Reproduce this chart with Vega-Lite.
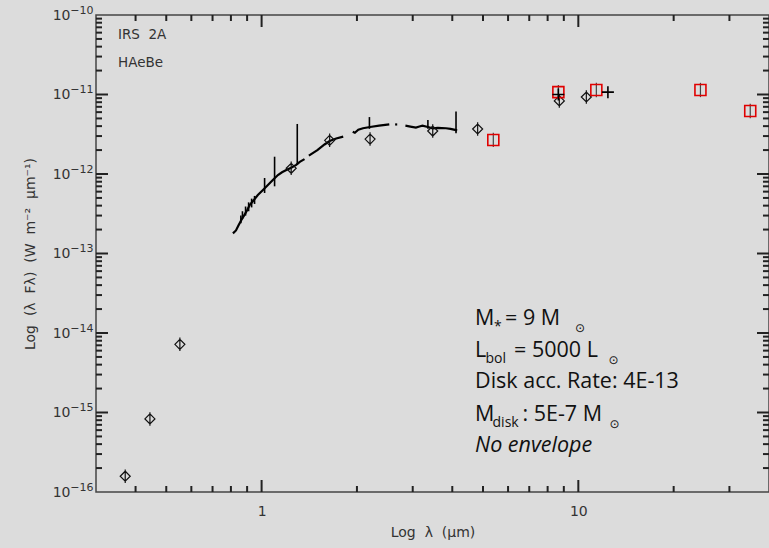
{
  "$schema": "https://vega.github.io/schema/vega-lite/v6.json",
  "width": 673,
  "height": 477,
  "autosize": "none",
  "padding": {"left": 96, "top": 15, "right": 0, "bottom": 56},
  "background": "#dcdcdc",
  "config": {"view": {"stroke": "#444", "strokeWidth": 1.5}},
  "datasets": {
    "xt": [
      {"lam": 1, "a": 1e-16, "b": 1.416e-16, "c": 1e-10, "d": 7.06e-11},
      {"lam": 10, "a": 1e-16, "b": 1.416e-16, "c": 1e-10, "d": 7.06e-11},
      {"lam": 0.4, "a": 1e-16, "b": 1.19e-16, "c": 1e-10, "d": 8.4e-11},
      {"lam": 0.5, "a": 1e-16, "b": 1.19e-16, "c": 1e-10, "d": 8.4e-11},
      {"lam": 0.6, "a": 1e-16, "b": 1.19e-16, "c": 1e-10, "d": 8.4e-11},
      {"lam": 0.7, "a": 1e-16, "b": 1.19e-16, "c": 1e-10, "d": 8.4e-11},
      {"lam": 0.8, "a": 1e-16, "b": 1.19e-16, "c": 1e-10, "d": 8.4e-11},
      {"lam": 0.9, "a": 1e-16, "b": 1.19e-16, "c": 1e-10, "d": 8.4e-11},
      {"lam": 2, "a": 1e-16, "b": 1.19e-16, "c": 1e-10, "d": 8.4e-11},
      {"lam": 3, "a": 1e-16, "b": 1.19e-16, "c": 1e-10, "d": 8.4e-11},
      {"lam": 4, "a": 1e-16, "b": 1.19e-16, "c": 1e-10, "d": 8.4e-11},
      {"lam": 5, "a": 1e-16, "b": 1.19e-16, "c": 1e-10, "d": 8.4e-11},
      {"lam": 6, "a": 1e-16, "b": 1.19e-16, "c": 1e-10, "d": 8.4e-11},
      {"lam": 7, "a": 1e-16, "b": 1.19e-16, "c": 1e-10, "d": 8.4e-11},
      {"lam": 8, "a": 1e-16, "b": 1.19e-16, "c": 1e-10, "d": 8.4e-11},
      {"lam": 9, "a": 1e-16, "b": 1.19e-16, "c": 1e-10, "d": 8.4e-11},
      {"lam": 20, "a": 1e-16, "b": 1.19e-16, "c": 1e-10, "d": 8.4e-11},
      {"lam": 30, "a": 1e-16, "b": 1.19e-16, "c": 1e-10, "d": 8.4e-11}
    ],
    "yt": [
      {"flux": 1e-15, "a": 0.3, "b": 0.3273, "c": 40, "d": 36.66},
      {"flux": 1e-14, "a": 0.3, "b": 0.3273, "c": 40, "d": 36.66},
      {"flux": 1e-13, "a": 0.3, "b": 0.3273, "c": 40, "d": 36.66},
      {"flux": 1e-12, "a": 0.3, "b": 0.3273, "c": 40, "d": 36.66},
      {"flux": 1e-11, "a": 0.3, "b": 0.3273, "c": 40, "d": 36.66},
      {"flux": 2e-16, "a": 0.3, "b": 0.3134, "c": 40, "d": 38.29},
      {"flux": 3e-16, "a": 0.3, "b": 0.3134, "c": 40, "d": 38.29},
      {"flux": 4e-16, "a": 0.3, "b": 0.3134, "c": 40, "d": 38.29},
      {"flux": 5e-16, "a": 0.3, "b": 0.3134, "c": 40, "d": 38.29},
      {"flux": 6e-16, "a": 0.3, "b": 0.3134, "c": 40, "d": 38.29},
      {"flux": 7e-16, "a": 0.3, "b": 0.3134, "c": 40, "d": 38.29},
      {"flux": 8e-16, "a": 0.3, "b": 0.3134, "c": 40, "d": 38.29},
      {"flux": 9e-16, "a": 0.3, "b": 0.3134, "c": 40, "d": 38.29},
      {"flux": 2e-15, "a": 0.3, "b": 0.3134, "c": 40, "d": 38.29},
      {"flux": 3e-15, "a": 0.3, "b": 0.3134, "c": 40, "d": 38.29},
      {"flux": 4e-15, "a": 0.3, "b": 0.3134, "c": 40, "d": 38.29},
      {"flux": 5e-15, "a": 0.3, "b": 0.3134, "c": 40, "d": 38.29},
      {"flux": 6e-15, "a": 0.3, "b": 0.3134, "c": 40, "d": 38.29},
      {"flux": 7e-15, "a": 0.3, "b": 0.3134, "c": 40, "d": 38.29},
      {"flux": 8e-15, "a": 0.3, "b": 0.3134, "c": 40, "d": 38.29},
      {"flux": 9e-15, "a": 0.3, "b": 0.3134, "c": 40, "d": 38.29},
      {"flux": 2e-14, "a": 0.3, "b": 0.3134, "c": 40, "d": 38.29},
      {"flux": 3e-14, "a": 0.3, "b": 0.3134, "c": 40, "d": 38.29},
      {"flux": 4e-14, "a": 0.3, "b": 0.3134, "c": 40, "d": 38.29},
      {"flux": 5e-14, "a": 0.3, "b": 0.3134, "c": 40, "d": 38.29},
      {"flux": 6e-14, "a": 0.3, "b": 0.3134, "c": 40, "d": 38.29},
      {"flux": 7e-14, "a": 0.3, "b": 0.3134, "c": 40, "d": 38.29},
      {"flux": 8e-14, "a": 0.3, "b": 0.3134, "c": 40, "d": 38.29},
      {"flux": 9e-14, "a": 0.3, "b": 0.3134, "c": 40, "d": 38.29},
      {"flux": 2e-13, "a": 0.3, "b": 0.3134, "c": 40, "d": 38.29},
      {"flux": 3e-13, "a": 0.3, "b": 0.3134, "c": 40, "d": 38.29},
      {"flux": 4e-13, "a": 0.3, "b": 0.3134, "c": 40, "d": 38.29},
      {"flux": 5e-13, "a": 0.3, "b": 0.3134, "c": 40, "d": 38.29},
      {"flux": 6e-13, "a": 0.3, "b": 0.3134, "c": 40, "d": 38.29},
      {"flux": 7e-13, "a": 0.3, "b": 0.3134, "c": 40, "d": 38.29},
      {"flux": 8e-13, "a": 0.3, "b": 0.3134, "c": 40, "d": 38.29},
      {"flux": 9e-13, "a": 0.3, "b": 0.3134, "c": 40, "d": 38.29},
      {"flux": 2e-12, "a": 0.3, "b": 0.3134, "c": 40, "d": 38.29},
      {"flux": 3e-12, "a": 0.3, "b": 0.3134, "c": 40, "d": 38.29},
      {"flux": 4e-12, "a": 0.3, "b": 0.3134, "c": 40, "d": 38.29},
      {"flux": 5e-12, "a": 0.3, "b": 0.3134, "c": 40, "d": 38.29},
      {"flux": 6e-12, "a": 0.3, "b": 0.3134, "c": 40, "d": 38.29},
      {"flux": 7e-12, "a": 0.3, "b": 0.3134, "c": 40, "d": 38.29},
      {"flux": 8e-12, "a": 0.3, "b": 0.3134, "c": 40, "d": 38.29},
      {"flux": 9e-12, "a": 0.3, "b": 0.3134, "c": 40, "d": 38.29},
      {"flux": 2e-11, "a": 0.3, "b": 0.3134, "c": 40, "d": 38.29},
      {"flux": 3e-11, "a": 0.3, "b": 0.3134, "c": 40, "d": 38.29},
      {"flux": 4e-11, "a": 0.3, "b": 0.3134, "c": 40, "d": 38.29},
      {"flux": 5e-11, "a": 0.3, "b": 0.3134, "c": 40, "d": 38.29},
      {"flux": 6e-11, "a": 0.3, "b": 0.3134, "c": 40, "d": 38.29},
      {"flux": 7e-11, "a": 0.3, "b": 0.3134, "c": 40, "d": 38.29},
      {"flux": 8e-11, "a": 0.3, "b": 0.3134, "c": 40, "d": 38.29},
      {"flux": 9e-11, "a": 0.3, "b": 0.3134, "c": 40, "d": 38.29}
    ],
    "spec": [
      {"seg": 1, "lam": 0.812, "flux": 1.79e-13},
      {"seg": 1, "lam": 0.83, "flux": 1.95e-13},
      {"seg": 1, "lam": 0.845, "flux": 2.25e-13},
      {"seg": 1, "lam": 0.863, "flux": 2.64e-13},
      {"seg": 1, "lam": 0.88, "flux": 3.0e-13},
      {"seg": 1, "lam": 0.9, "flux": 3.5e-13},
      {"seg": 1, "lam": 0.917, "flux": 4.07e-13},
      {"seg": 1, "lam": 0.945, "flux": 4.7e-13},
      {"seg": 1, "lam": 0.973, "flux": 5.44e-13},
      {"seg": 1, "lam": 1.01, "flux": 6.3e-13},
      {"seg": 1, "lam": 1.047, "flux": 7.27e-13},
      {"seg": 1, "lam": 1.085, "flux": 8.4e-13},
      {"seg": 1, "lam": 1.126, "flux": 9.7e-13},
      {"seg": 1, "lam": 1.16, "flux": 1.05e-12},
      {"seg": 1, "lam": 1.197, "flux": 1.12e-12},
      {"seg": 1, "lam": 1.24, "flux": 1.2e-12},
      {"seg": 1, "lam": 1.286, "flux": 1.3e-12},
      {"seg": 1, "lam": 1.32, "flux": 1.42e-12},
      {"seg": 1, "lam": 1.366, "flux": 1.54e-12},
      {"seg": 2, "lam": 1.41, "flux": 1.7e-12},
      {"seg": 2, "lam": 1.5, "flux": 2.0e-12},
      {"seg": 2, "lam": 1.58, "flux": 2.35e-12},
      {"seg": 2, "lam": 1.64, "flux": 2.6e-12},
      {"seg": 2, "lam": 1.72, "flux": 2.8e-12},
      {"seg": 2, "lam": 1.81, "flux": 2.95e-12},
      {"seg": 3, "lam": 1.94, "flux": 3.4e-12},
      {"seg": 3, "lam": 1.97, "flux": 3.3e-12},
      {"seg": 3, "lam": 2.02, "flux": 3.6e-12},
      {"seg": 3, "lam": 2.09, "flux": 3.76e-12},
      {"seg": 3, "lam": 2.2, "flux": 3.9e-12},
      {"seg": 3, "lam": 2.35, "flux": 4.05e-12},
      {"seg": 3, "lam": 2.53, "flux": 4.22e-12},
      {"seg": 4, "lam": 2.64, "flux": 4.2e-12},
      {"seg": 4, "lam": 2.68, "flux": 4.2e-12},
      {"seg": 5, "lam": 2.845, "flux": 4.05e-12},
      {"seg": 5, "lam": 2.95, "flux": 3.95e-12},
      {"seg": 5, "lam": 3.07, "flux": 3.83e-12},
      {"seg": 5, "lam": 3.15, "flux": 3.95e-12},
      {"seg": 5, "lam": 3.22, "flux": 4.05e-12},
      {"seg": 5, "lam": 3.35, "flux": 3.9e-12},
      {"seg": 5, "lam": 3.47, "flux": 3.76e-12},
      {"seg": 5, "lam": 3.6, "flux": 3.8e-12},
      {"seg": 5, "lam": 3.82, "flux": 3.76e-12},
      {"seg": 5, "lam": 3.95, "flux": 3.7e-12},
      {"seg": 5, "lam": 4.11, "flux": 3.57e-12},
      {"seg": 5, "lam": 4.14, "flux": 3.5e-12}
    ],
    "spikes": [
      {"lam": 0.86, "flux": 2.4e-13, "flux2": 3.0e-13},
      {"lam": 0.87, "flux": 2.7e-13, "flux2": 3.4e-13},
      {"lam": 0.89, "flux": 3.0e-13, "flux2": 3.9e-13},
      {"lam": 0.91, "flux": 3.4e-13, "flux2": 4.4e-13},
      {"lam": 0.93, "flux": 3.8e-13, "flux2": 4.9e-13},
      {"lam": 0.95, "flux": 4.2e-13, "flux2": 5.3e-13},
      {"lam": 1.022, "flux": 5.77e-13, "flux2": 8.9e-13},
      {"lam": 1.099, "flux": 7.0e-13, "flux2": 1.65e-12},
      {"lam": 1.296, "flux": 1.3e-12, "flux2": 4.26e-12},
      {"lam": 2.19, "flux": 3.7e-12, "flux2": 5.2e-12},
      {"lam": 3.35, "flux": 3.7e-12, "flux2": 4.78e-12},
      {"lam": 4.11, "flux": 3.25e-12, "flux2": 6.1e-12}
    ],
    "diam": [
      {"lam": 0.371, "flux": 1.58e-16},
      {"lam": 0.444, "flux": 8.3e-16},
      {"lam": 0.552, "flux": 7.2e-15},
      {"lam": 1.24, "flux": 1.18e-12},
      {"lam": 1.64, "flux": 2.65e-12},
      {"lam": 2.2, "flux": 2.75e-12},
      {"lam": 3.47, "flux": 3.47e-12},
      {"lam": 4.81, "flux": 3.68e-12},
      {"lam": 8.71, "flux": 8.3e-12},
      {"lam": 10.6, "flux": 9.3e-12}
    ],
    "sq": [
      {"lam": 5.39, "flux": 2.68e-12},
      {"lam": 8.65, "flux": 1.07e-11},
      {"lam": 11.4, "flux": 1.14e-11},
      {"lam": 24.3, "flux": 1.14e-11},
      {"lam": 34.9, "flux": 6.2e-12}
    ],
    "plus": [
      {"lam": 12.4, "flux": 1.07e-11},
      {"lam": 8.65, "flux": 1.0e-11}
    ],
    "corner": [
      {"lam": 0.352, "flux": 5.6e-11, "label": "IRS\u00a0\u00a02A"},
      {"lam": 0.352, "flux": 2.49e-11, "label": "HAeBe"}
    ],
    "annMain": [
      {"lam": 4.72, "flux": 1.243e-14, "label": "M"},
      {"lam": 5.87, "flux": 1.243e-14, "label": "= 9 M"},
      {"lam": 4.72, "flux": 4.99e-15, "label": "L"},
      {"lam": 6.27, "flux": 4.99e-15, "label": "= 5000 L"},
      {"lam": 4.72, "flux": 2.004e-15, "label": "Disk acc. Rate: 4E-13"},
      {"lam": 4.72, "flux": 7.93e-16, "label": "M"},
      {"lam": 6.66, "flux": 7.93e-16, "label": ": 5E-7 M"}
    ],
    "annSub": [
      {"lam": 5.42, "flux": 1.243e-14, "label": "*"},
      {"lam": 5.09, "flux": 4.99e-15, "label": "bol"},
      {"lam": 5.36, "flux": 7.93e-16, "label": "disk"}
    ],
    "annSun": [
      {"lam": 9.76, "flux": 1.243e-14, "label": "⊙"},
      {"lam": 12.46, "flux": 4.99e-15, "label": "⊙"},
      {"lam": 12.55, "flux": 7.93e-16, "label": "⊙"}
    ],
    "annIt": [
      {"lam": 4.72, "flux": 3.14e-16, "label": "No envelope"}
    ]
  },
  "resolve": {"axis": {"x": "independent", "y": "independent"}},
  "layer": [
    {
      "data": {"name": "spec"},
      "mark": {"type": "line", "color": "#000", "strokeWidth": 2.2, "interpolate": "linear"},
      "encoding": {
        "x": {
          "field": "lam", "type": "quantitative",
          "scale": {"type": "log", "domain": [0.3, 40], "nice": false},
          "axis": {
            "orient": "bottom",
            "values": [1, 10],
            "labelExpr": "datum.value == 1 ? '1' : '10'",
            "ticks": false, "grid": false, "domain": false,
            "labelFont": "DejaVu Sans", "labelFontSize": 14, "labelColor": "#333",
            "labelPadding": 12, "labelFlush": false, "labelOverlap": false,
            "title": "Log\u00a0\u00a0λ\u00a0\u00a0(μm)",
            "titleFont": "DejaVu Sans", "titleFontSize": 14, "titleFontWeight": "normal", "titleColor": "#333",
            "titlePadding": 7
          }
        },
        "y": {
          "field": "flux", "type": "quantitative",
          "scale": {"type": "log", "domain": [1e-16, 1e-10], "nice": false},
          "axis": {
            "orient": "left",
            "values": [1e-16, 1e-15, 1e-14, 1e-13, 1e-12, 1e-11, 1e-10],
            "labelExpr": "'10'",
            "ticks": false, "grid": false, "domain": false,
            "labelFont": "DejaVu Sans", "labelFontSize": 14, "labelColor": "#333",
            "labelPadding": 26, "labelFlush": false, "labelOverlap": false,
            "title": "Log\u00a0\u00a0(λ\u00a0\u00a0Fλ)\u00a0\u00a0(W\u00a0\u00a0m⁻²\u00a0\u00a0μm⁻¹)",
            "titleFont": "DejaVu Sans", "titleFontSize": 14, "titleFontWeight": "normal", "titleColor": "#333",
            "titlePadding": 15
          }
        },
        "detail": {"field": "seg", "type": "nominal"}
      }
    },
    {
      "data": {"name": "spikes"},
      "mark": {"type": "rule", "color": "#000", "strokeWidth": 1.6},
      "encoding": {
        "x": {"field": "lam", "type": "quantitative", "axis": null},
        "y": {
          "field": "flux", "type": "quantitative",
          "axis": {
            "orient": "left",
            "values": [1e-16, 1e-15, 1e-14, 1e-13, 1e-12, 1e-11, 1e-10],
            "labelExpr": "datum.value == 1e-10 ? '−10' : datum.value == 1e-11 ? '−11' : datum.value == 1e-12 ? '−12' : datum.value == 1e-13 ? '−13' : datum.value == 1e-14 ? '−14' : datum.value == 1e-15 ? '−15' : '−16'",
            "ticks": false, "grid": false, "domain": false,
            "labelFont": "DejaVu Sans", "labelFontSize": 11, "labelColor": "#333",
            "labelPadding": 3, "labelOffset": -5, "labelFlush": false, "labelOverlap": false,
            "title": null
          }
        },
        "y2": {"field": "flux2"}
      }
    },
    {
      "data": {"name": "xt"},
      "mark": {"type": "rule", "color": "#222", "strokeWidth": 2},
      "encoding": {
        "x": {"field": "lam", "type": "quantitative", "axis": null},
        "y": {"field": "a", "type": "quantitative", "axis": null},
        "y2": {"field": "b"}
      }
    },
    {
      "data": {"name": "xt"},
      "mark": {"type": "rule", "color": "#222", "strokeWidth": 2},
      "encoding": {
        "x": {"field": "lam", "type": "quantitative", "axis": null},
        "y": {"field": "c", "type": "quantitative", "axis": null},
        "y2": {"field": "d"}
      }
    },
    {
      "data": {"name": "yt"},
      "mark": {"type": "rule", "color": "#222", "strokeWidth": 2},
      "encoding": {
        "y": {"field": "flux", "type": "quantitative", "axis": null},
        "x": {"field": "a", "type": "quantitative", "axis": null},
        "x2": {"field": "b"}
      }
    },
    {
      "data": {"name": "yt"},
      "mark": {"type": "rule", "color": "#222", "strokeWidth": 2},
      "encoding": {
        "y": {"field": "flux", "type": "quantitative", "axis": null},
        "x": {"field": "c", "type": "quantitative", "axis": null},
        "x2": {"field": "d"}
      }
    },
    {
      "data": {"name": "diam"},
      "mark": {"type": "point", "shape": "M -1 0 L 0 -1 L 1 0 L 0 1 Z M 0 -1.35 L 0 1.35", "size": 100, "filled": false, "stroke": "#111", "strokeWidth": 1.2, "opacity": 1},
      "encoding": {
        "x": {"field": "lam", "type": "quantitative", "axis": null},
        "y": {"field": "flux", "type": "quantitative", "axis": null}
      }
    },
    {
      "data": {"name": "sq"},
      "mark": {"type": "point", "shape": "M 0 -1.3 L 0 1.3", "size": 121, "filled": false, "stroke": "#444", "strokeWidth": 1.2, "opacity": 1},
      "encoding": {
        "x": {"field": "lam", "type": "quantitative", "axis": null},
        "y": {"field": "flux", "type": "quantitative", "axis": null}
      }
    },
    {
      "data": {"name": "sq"},
      "mark": {"type": "point", "shape": "square", "size": 121, "filled": false, "stroke": "#e00000", "strokeWidth": 1.6, "opacity": 1},
      "encoding": {
        "x": {"field": "lam", "type": "quantitative", "axis": null},
        "y": {"field": "flux", "type": "quantitative", "axis": null}
      }
    },
    {
      "data": {"name": "plus"},
      "mark": {"type": "point", "shape": "M -1 0 L 1 0 M 0 -1 L 0 1", "size": 144, "filled": false, "stroke": "#000", "strokeWidth": 1.6, "opacity": 1},
      "encoding": {
        "x": {"field": "lam", "type": "quantitative", "axis": null},
        "y": {"field": "flux", "type": "quantitative", "axis": null}
      }
    },
    {
      "data": {"name": "corner"},
      "mark": {"type": "text", "align": "left", "baseline": "middle", "font": "DejaVu Sans", "fontSize": 13.5, "color": "#333"},
      "encoding": {
        "x": {"field": "lam", "type": "quantitative", "axis": null},
        "y": {"field": "flux", "type": "quantitative", "axis": null},
        "text": {"field": "label"}
      }
    },
    {
      "data": {"name": "annMain"},
      "mark": {"type": "text", "align": "left", "baseline": "alphabetic", "font": "Open Sans", "fontSize": 21.5, "color": "#111"},
      "encoding": {
        "x": {"field": "lam", "type": "quantitative", "axis": null},
        "y": {"field": "flux", "type": "quantitative", "axis": null},
        "text": {"field": "label"}
      }
    },
    {
      "data": {"name": "annSub"},
      "mark": {"type": "text", "align": "left", "baseline": "alphabetic", "font": "Open Sans", "fontSize": 14, "color": "#111", "dy": 6},
      "encoding": {
        "x": {"field": "lam", "type": "quantitative", "axis": null},
        "y": {"field": "flux", "type": "quantitative", "axis": null},
        "text": {"field": "label"}
      }
    },
    {
      "data": {"name": "annSun"},
      "mark": {"type": "text", "align": "left", "baseline": "middle", "font": "DejaVu Sans", "fontSize": 12, "color": "#111", "dy": 3},
      "encoding": {
        "x": {"field": "lam", "type": "quantitative", "axis": null},
        "y": {"field": "flux", "type": "quantitative", "axis": null},
        "text": {"field": "label"}
      }
    },
    {
      "data": {"name": "annIt"},
      "mark": {"type": "text", "align": "left", "baseline": "alphabetic", "font": "Open Sans", "fontSize": 21.5, "fontStyle": "italic", "color": "#111"},
      "encoding": {
        "x": {"field": "lam", "type": "quantitative", "axis": null},
        "y": {"field": "flux", "type": "quantitative", "axis": null},
        "text": {"field": "label"}
      }
    }
  ]
}
